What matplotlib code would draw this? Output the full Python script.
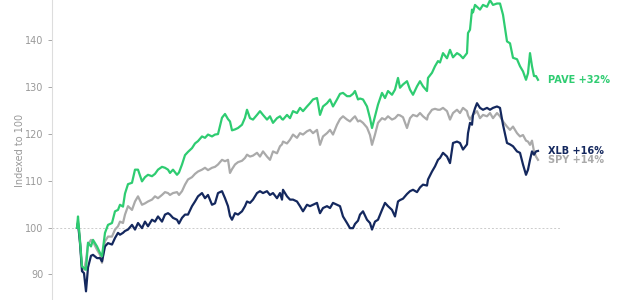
import matplotlib
matplotlib.use("Agg")
import matplotlib.pyplot as plt

# trading-day index (0 = base date, all series indexed to 100)
day = [0, 1, 3, 5, 7, 9, 11, 14, 16, 20, 23, 25, 28, 31, 35, 38, 41, 43, 46, 48,
       51, 55, 58, 61, 65, 68, 71, 75, 78, 81, 85, 88, 91, 93, 96, 100, 102, 105,
       108, 111, 115, 118, 121, 125, 128, 131, 135, 138, 141, 145, 148, 151, 153,
       155, 158, 161, 165, 168, 170, 173, 176, 180, 183, 186, 190, 193, 196, 200,
       203, 205, 206, 210, 213, 216, 220, 223, 226, 230, 233, 236, 240, 241, 243,
       246, 250, 253, 256, 260, 263, 266, 270, 273, 276, 278, 281, 283, 286, 290,
       293, 295, 298, 301, 305, 308, 311, 315, 318, 321, 323, 326, 330, 333, 336,
       340, 343, 346, 350, 351, 355, 358, 361, 363, 366, 370, 373, 376, 380, 383,
       386, 390, 391, 393, 395, 396, 398, 400, 403, 406, 410, 413, 416, 420, 423,
       426, 430, 433, 436, 440, 443, 446, 449, 451, 453, 455, 457, 459, 461]

pave = [100, 102.4, 97, 91.7, 91.4, 91, 96.8, 96, 97.4, 96, 94.6, 93.9, 98.9, 100.6,
        101, 103.5, 103.8, 104.9, 104.5, 107.3, 109.3, 109.6, 112.4, 112.4, 109.9,
        110.8, 111.3, 111, 111.5, 112.4, 113, 112.8, 112.4, 111.7, 112.4, 111.3,
        111.8, 113.5, 115.5, 116.2, 117, 118, 118.5, 119.5, 119.2, 119.9, 119.5,
        119.9, 120, 123.5, 124.3, 123.2, 122.7, 120.8, 121, 121.3, 122, 123.5, 125.2,
        123.4, 123.1, 124.1, 124.9, 124.1, 123.1, 123.8, 122.4, 123.4, 123.8, 123.2,
        123.1, 124.1, 123.4, 124.9, 124.5, 125.6, 124.9, 125.9, 126.6, 127.4, 127.7,
        126.6, 124.1, 125.9, 126.6, 127.4, 125.9, 127.4, 128.6, 128.8, 128.1, 128.1,
        128.6, 129.2, 127.4, 127.6, 127.4, 125.9, 123.4, 121.3, 123.8, 126.3, 128.8,
        127.7, 129.2, 128.4, 129.5, 132, 129.9, 130.6, 131.3, 129.5, 128.4, 130.2,
        131.3, 130.2, 129.2, 132, 133.1, 134.5, 135.6, 135.3, 137.3, 136.2, 138,
        136.4, 137.3, 136.9, 136.2, 137.3, 141.6, 142.3, 146.6, 146, 147.6, 147.2,
        146.6, 147.6, 147.2, 148.6, 147.6, 147.9, 147.9, 145.5, 139.8, 139.4, 136.3,
        136, 134.5, 133.4, 131.6, 133, 137.3, 134.5, 132.4, 132.4, 131.6]

spy = [100, 101.3, 97.4, 91.5, 91, 93, 96.4, 97.4, 97, 95.3, 94.2, 92.5, 97.1, 98.1,
       98.1, 99.6, 100.3, 101.3, 101, 102.8, 104.6, 103.8, 105.6, 106.7, 104.9,
       105.2, 105.6, 106, 106.7, 106.3, 107, 107.6, 107.4, 107, 107.4, 107.6, 107,
       107.8, 109.2, 110.3, 110.8, 111.5, 112, 112.4, 112.8, 112.3, 112.8, 113,
       113.5, 114.5, 114.2, 114.5, 111.7, 112.5, 113.5, 114, 114.3, 114.9, 115.6,
       115.2, 115.4, 116, 115.2, 116.3, 115.2, 114.5, 116.3, 115.9, 117.4, 117.8,
       118.4, 118, 118.8, 119.9, 119.2, 120.2, 119.9, 120.6, 120.9, 120.2, 120.9,
       119.8, 117.7, 119.5, 120.2, 120.9, 119.9, 122, 123.2, 123.8, 123.1, 122.7,
       123.4, 123.8, 122.7, 122.9, 122.4, 121.4, 119.8, 117.7, 119.9, 122.4, 123.4,
       123.1, 123.8, 123.1, 123.4, 124.1, 124, 123.6, 121.3, 123.4, 124.1, 123.8,
       124.5, 123.8, 123.1, 124, 125.2, 125.4, 125.2, 125.2, 125.6, 124.9, 123.1,
       124.5, 125.2, 124.5, 125.6, 124.9, 124, 123.1, 123.8, 124.1, 124.5, 124.9,
       123.4, 124.1, 123.8, 124.5, 123.4, 124.5, 123.8, 122.7, 121.6, 120.9, 121.6,
       120.2, 119.5, 119.8, 118.6, 118.4, 117.7, 118.6, 116.3, 115.2, 114.5]

xlb = [100, 101, 96.7, 90.7, 90.3, 86.4, 91.5, 94, 94.2, 93.5, 93.5, 92.8, 96, 96.7,
       96.4, 97.8, 98.9, 98.5, 98.9, 99.3, 99.6, 100.6, 99.6, 101, 99.9, 101.3,
       100.3, 101.7, 101.3, 102.4, 101.3, 102.8, 103.1, 102.8, 102.1, 101.7, 100.9,
       102.1, 102.8, 102.8, 104.6, 105.6, 106.7, 107.4, 106.3, 107, 104.9, 105.2,
       107.4, 107.8, 106.3, 104.6, 102.5, 101.7, 103.1, 102.8, 103.5, 104.6, 105.6,
       105.3, 106, 107.4, 107.8, 107.4, 107.8, 107, 107.4, 106.3, 107.4, 106, 108.1,
       106.7, 106, 106, 105.6, 104.6, 103.5, 104.9, 104.6, 104.9, 105.3, 104.5,
       103.1, 104.2, 104.6, 104.2, 105.3, 104.9, 104.6, 102.4, 101, 99.9, 99.9,
       100.8, 101.5, 102.8, 103.5, 101.7, 101, 99.6, 101.3, 101.7, 103.8, 105.3,
       104.6, 103.8, 102.4, 105.6, 105.9, 106.2, 107.2, 107.8, 108.1, 107.6, 108.6,
       109.2, 109, 110.3, 112, 113.1, 114.5, 114.9, 116, 115.2, 113.8, 118.1, 118.4,
       118.1, 116.7, 117.8, 120.2, 122.4, 122, 124.1, 125.5, 126.6, 125.6, 125.2,
       125.6, 125.2, 125.6, 125.9, 125.6, 122, 118.1, 117.8, 117.4, 116.3, 116,
       113.5, 111.3, 112.4, 114.5, 116.3, 115.6, 116.3, 116.4]

labels = ["PAVE +32%", "XLB +16%", "SPY +14%"]
series = [pave, xlb, spy]
colors = ["#2ecc71", "#14285e", "#aaaaaa"]

fig = plt.figure(figsize=(6.4, 3.0), dpi=100)
ax = fig.add_axes([52 / 640, 0, 508 / 640, 1])

ax.axhline(100, color="#cccccc", lw=0.7, ls=(0, (2, 2)), zorder=1)

# draw grey first so the coloured lines sit on top
for lab, vals, col in zip(labels[::-1], series[::-1], colors[::-1]):
    ax.plot(day, vals, color=col, lw=1.6, zorder=3)
    ax.annotate(lab, xy=(day[-1], vals[-1]),
                xytext=(7, 0), textcoords="offset points",
                va="center", ha="left", color=col, fontsize=7,
                fontweight="bold", annotation_clip=False)

ax.set_xlim(-25, 483)
ax.set_ylim(84.55, 148.65)
ax.set_yticks([90, 100, 110, 120, 130, 140])
ax.set_ylabel("Indexed to 100", color="#999999", fontsize=7, labelpad=0)
ax.tick_params(axis="y", colors="#999999", labelsize=7, length=3, width=0.6,
               pad=3)
ax.tick_params(axis="x", bottom=False, labelbottom=False)
for side in ["top", "right", "bottom"]:
    ax.spines[side].set_visible(False)
ax.spines["left"].set_color("#dddddd")
ax.spines["left"].set_linewidth(0.8)

fig.savefig("out.png", dpi=100)
